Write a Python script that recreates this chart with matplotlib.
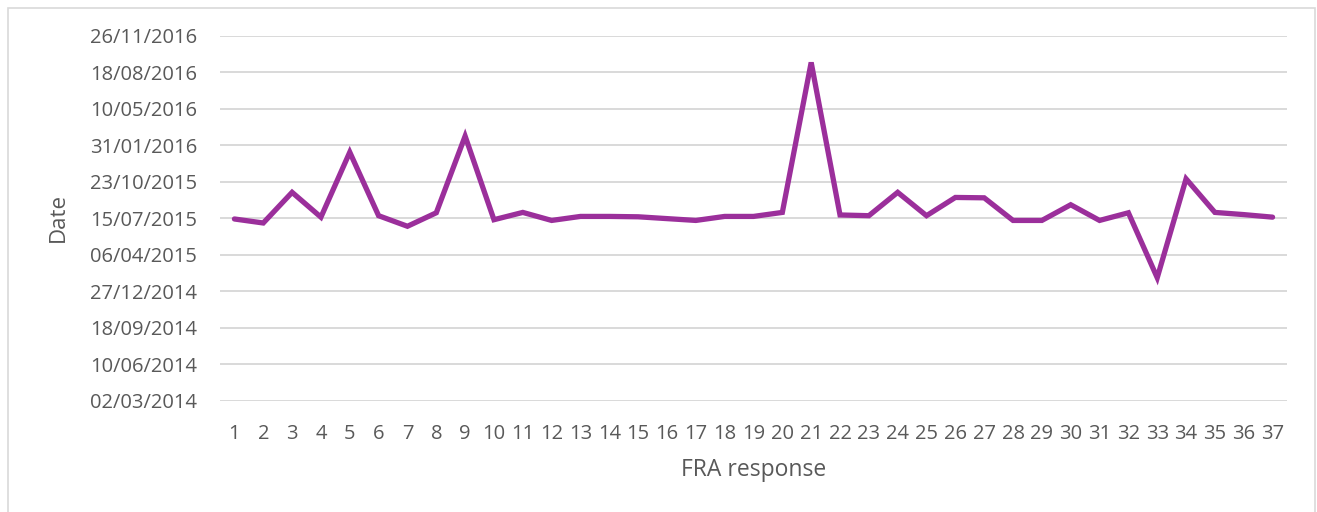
import numpy as np
import matplotlib
matplotlib.use("Agg")
import matplotlib.pyplot as plt
import matplotlib.dates as mdates
from matplotlib.patches import Rectangle

# FRA response number -> response date
responses = list(range(1, 38))
dates = [
    "2015-07-13", "2015-07-02", "2015-09-24", "2015-07-18", "2016-01-12",
    "2015-07-22", "2015-06-23", "2015-07-30", "2016-02-25", "2015-07-11",
    "2015-07-31", "2015-07-09", "2015-07-20", "2015-07-20", "2015-07-19",
    "2015-07-14", "2015-07-09", "2015-07-20", "2015-07-20", "2015-07-31",
    "2016-09-14", "2015-07-24", "2015-07-22", "2015-09-24", "2015-07-22",
    "2015-09-10", "2015-09-09", "2015-07-09", "2015-07-09", "2015-08-21",
    "2015-07-09", "2015-07-30", "2015-02-02", "2015-10-31", "2015-07-31",
    "2015-07-25", "2015-07-18",
]
y_start = "2014-03-02"
y_step_days = 100
n_ticks = 11

plt.rcParams['font.family'] = ['Open Sans', 'DejaVu Sans']
text_color = '#595959'

fig = plt.figure(figsize=(13.17, 5.12), dpi=100)
ax = fig.add_axes([220 / 1317, 1 - 400.7 / 512, (1287 - 220) / 1317, (400.7 - 35.8) / 512])

yvals = mdates.datestr2num(dates)
x = np.arange(len(responses))
ax.plot(x, yvals, color='#9B2F9B', linewidth=3.8, solid_joinstyle='miter',
        solid_capstyle='round', zorder=3)

start = mdates.datestr2num(y_start)
yticks = start + np.arange(n_ticks) * y_step_days
ax.set_yticks(yticks)
ax.yaxis.set_major_formatter(mdates.DateFormatter('%d/%m/%Y'))
ax.set_ylim(yticks[0], yticks[-1])
ax.set_xlim(-0.5, len(responses) - 0.5)
ax.set_xticks(x)
ax.set_xticklabels([str(r) for r in responses])

ax.grid(axis='y', color='#d9d9d9', linewidth=1.4, zorder=0)
ax.set_axisbelow(True)
for s in ax.spines.values():
    s.set_visible(False)
ax.tick_params(axis='both', length=0, labelsize=14.5, labelcolor=text_color)
ax.tick_params(axis='y', pad=16.5)
ax.tick_params(axis='x', pad=17)
for lbl in ax.get_yticklabels():
    lbl.set_clip_on(False)

# axis titles
fig.text(58 / 1317, 1 - 218 / 512, 'Date', rotation=90, ha='center', va='center',
         fontsize=16, color=text_color)
fig.text(754 / 1317, 1 - 470 / 512, 'FRA response', ha='center', va='center',
         fontsize=16.5, color=text_color)

# outer chart border
fig.patches.append(Rectangle((7.5 / 1317, -0.01), (1315 - 7.5) / 1317, 1 - 7.5 / 512 + 0.01,
                             transform=fig.transFigure, fill=False,
                             edgecolor='#d9d9d9', linewidth=1.2))

fig.savefig('out.png', dpi=100)
